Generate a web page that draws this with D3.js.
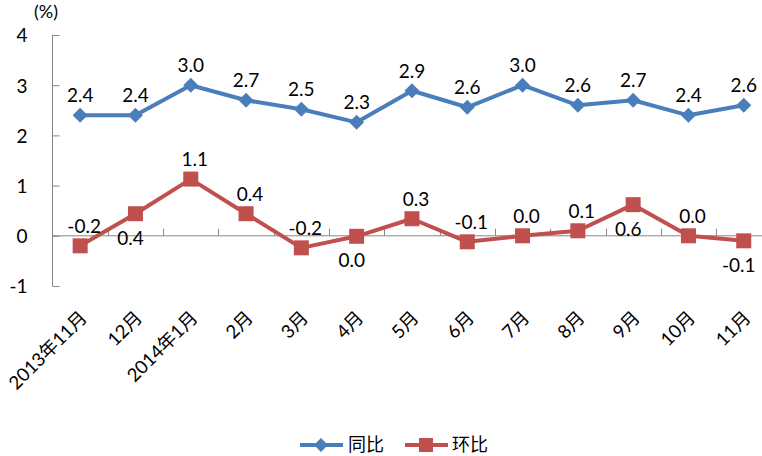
<!DOCTYPE html>
<html><head><meta charset="utf-8">
<script src="https://cdn.jsdelivr.net/npm/d3@7/dist/d3.min.js"></script>
<style>
html,body{margin:0;padding:0;background:#fff;}
svg{display:block;}
text{font-family:Lato,"Noto Sans CJK SC",sans-serif;fill:#000;}
</style></head>
<body>
<script>
const categories = ["2013年11月","12月","2014年1月","2月","3月","4月","5月","6月","7月","8月","9月","10月","11月"];
const yoy = [2.4, 2.4, 3.0, 2.7, 2.52, 2.26, 2.89, 2.56, 3.0, 2.6, 2.7, 2.4, 2.6];
const mom = [-0.2, 0.44, 1.13, 0.44, -0.24, -0.01, 0.34, -0.12, 0.0, 0.1, 0.62, 0.0, -0.1];
const momLabelSide = ["above","below","above","above","above","below","above","above","above","above","below","above","below"];
const yTicks = [-1, 0, 1, 2, 3, 4];
const seriesNames = ["同比", "环比"];
const unitLabel = "(%)";

const W = 762, H = 456;
const svg = d3.select("body").append("svg").attr("width", W).attr("height", H);

const x = d3.scaleBand().domain(categories).range([52.5, 52.5 + 13 * 55.3]);
const y = d3.scaleLinear().domain([-1, 4]).range([286, 35]);
const cx = c => x(c) + x.bandwidth() / 2;
const fmt = v => { let s = (Math.round(v * 10) / 10).toFixed(1); if (s === "-0.0") s = "0.0"; return s; };

const blue = "#4A7EBB", red = "#C0504D", axisCol = "#868686";
const diamond = r => `M0,${-r}L${r},0L0,${r}L${-r},0Z`;

// y axis
const yAxis = d3.axisLeft(y).tickValues(yTicks).tickSize(-7).tickFormat(d => String(d));
const gy = svg.append("g").attr("transform", "translate(52.5,0)").call(yAxis);
gy.select(".domain").attr("stroke", axisCol).attr("d", `M0,${y(4)}V${y(-1)}`);
gy.selectAll(".tick line").attr("stroke", axisCol);
gy.selectAll(".tick text").attr("x", -25).attr("dy", "0.36em")
  .style("font-size", "19px").style("font-family", "Lato").attr("fill", "#000");

// x axis at zero (boundary ticks)
const gx = svg.append("g").attr("transform", `translate(0,${y(0)})`);
gx.append("line").attr("x1", 52.5).attr("x2", W).attr("stroke", axisCol);
gx.selectAll("line.tk").data(categories.slice(1)).join("line")
  .attr("class", "tk").attr("x1", d => Math.round(x(d)) + 0.5).attr("x2", d => Math.round(x(d)) + 0.5)
  .attr("y1", 0).attr("y2", -7).attr("stroke", axisCol);

// category labels
svg.append("g").selectAll("text").data(categories).join("text")
  .attr("transform", d => `translate(${cx(d) + 8},${319}) rotate(-45)`)
  .attr("text-anchor", "end")
  .style("font-size", "18.5px")
  .text(d => d);

// unit label
svg.append("text").attr("x", 46).attr("y", 18).attr("text-anchor", "middle")
  .style("font-size", "18px").text(unitLabel);

const line = d3.line().x((d, i) => cx(categories[i])).y(d => y(d));

// 同比
svg.append("path").datum(yoy).attr("d", line).attr("fill", "none")
  .attr("stroke", blue).attr("stroke-width", 4).attr("stroke-linejoin", "round");
svg.append("g").selectAll("path").data(yoy).join("path")
  .attr("d", diamond(7.5))
  .attr("transform", (d, i) => `translate(${cx(categories[i])},${y(d)})`)
  .attr("fill", blue);
svg.append("g").selectAll("text").data(yoy).join("text")
  .attr("x", (d, i) => cx(categories[i])).attr("y", d => y(d) - 13)
  .attr("text-anchor", "middle").style("font-size", "19px").text(d => fmt(d));

// 环比
svg.append("path").datum(mom).attr("d", line).attr("fill", "none")
  .attr("stroke", red).attr("stroke-width", 4).attr("stroke-linejoin", "round");
svg.append("g").selectAll("rect").data(mom).join("rect")
  .attr("x", (d, i) => cx(categories[i]) - 7.5).attr("y", d => y(d) - 7.5)
  .attr("width", 15).attr("height", 15).attr("fill", red);
svg.append("g").selectAll("text").data(mom).join("text")
  .attr("x", (d, i) => cx(categories[i]) + (momLabelSide[i] === "below" ? -5 : 4))
  .attr("y", (d, i) => momLabelSide[i] === "below" ? y(d) + 31 : y(d) - 13)
  .attr("text-anchor", "middle").style("font-size", "19px").text(d => fmt(d));

// legend
const lg = svg.append("g");
lg.append("line").attr("x1", 300).attr("x2", 343).attr("y1", 445).attr("y2", 445).attr("stroke", blue).attr("stroke-width", 4);
lg.append("path").attr("d", diamond(7)).attr("transform", "translate(321,445)").attr("fill", blue);
lg.append("text").attr("x", 348).attr("y", 451).style("font-size", "18px").style("font-family", "'Noto Sans CJK SC'").text(seriesNames[0]);
lg.append("line").attr("x1", 405).attr("x2", 448).attr("y1", 445).attr("y2", 445).attr("stroke", red).attr("stroke-width", 4);
lg.append("rect").attr("x", 419).attr("y", 438).attr("width", 14).attr("height", 14).attr("fill", red);
lg.append("text").attr("x", 452).attr("y", 451).style("font-size", "18px").style("font-family", "'Noto Sans CJK SC'").text(seriesNames[1]);
</script>
</body></html>
